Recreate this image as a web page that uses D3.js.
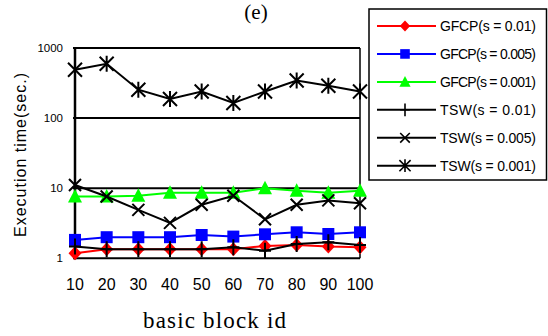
<!DOCTYPE html>
<html>
<head>
<meta charset="utf-8">
<script src="https://cdn.jsdelivr.net/npm/d3@7"></script>
<style>
  body { margin: 0; background: #fff; }
  svg { display: block; }
  text { font-family: 'Liberation Sans', Arial, sans-serif; fill: #000; }
</style>
</head>
<body>
<svg id="chart" width="548" height="336"></svg>
<script>
// block ids on x axis
const blockIds = [10, 20, 30, 40, 50, 60, 70, 80, 90, 100]
const yTicks = [1, 10, 100, 1000]

// execution time (sec.)
const gfcp001 = [1.18, 1.35, 1.35, 1.35, 1.35, 1.35, 1.5, 1.55, 1.47, 1.44]
const gfcp0005 = [1.83, 2.0, 2.0, 2.0, 2.15, 2.04, 2.2, 2.35, 2.22, 2.35]
const gfcp0001 = [7.6, 7.6, 7.8, 8.6, 8.6, 8.6, 10.0, 9.2, 8.6, 9.2]
const tsw001 = [1.47, 1.35, 1.35, 1.35, 1.35, 1.44, 1.28, 1.6, 1.69, 1.55]
const tsw0005 = [11.1, 7.6, 4.9, 3.2, 5.8, 7.8, 3.6, 5.8, 6.7, 6.1]
const tsw0001 = [490, 597, 254, 187, 240, 164, 240, 344, 289, 240]

const series = [
  { name: 'GFCP(s = 0.01)', values: gfcp001, color: '#ff0000', marker: 'diamond' },
  { name: 'GFCP(s = 0.005)', values: gfcp0005, color: '#0000ff', marker: 'square' },
  { name: 'GFCP(s = 0.001)', values: gfcp0001, color: '#00ff00', marker: 'triangle' },
  { name: 'TSW(s = 0.01)', values: tsw001, color: '#000000', marker: 'plus' },
  { name: 'TSW(s = 0.005)', values: tsw0005, color: '#000000', marker: 'x' },
  { name: 'TSW(s = 0.001)', values: tsw0001, color: '#000000', marker: 'star' },
]

const svg = d3.select('#chart')
const x = d3.scaleLinear().domain([10, 100]).range([75, 360])
const y = d3.scaleLog().domain([1, 1000]).range([258.3, 48])

// marker shapes
const markerPath = {
  diamond: 'M0,-7L6.5,0L0,7L-6.5,0Z',
  square: 'M-6,-6H6V6H-6Z',
  triangle: 'M0,-7.5L7,6L-7,6Z',
  plus: 'M0,-8V8M-6,0H6',
  x: 'M-6,-6L6,6M-6,6L6,-6',
  star: 'M-7,-7L7,7M-7,7L7,-7M0,-8V8',
}
const filled = (m) => m === 'diamond' || m === 'square' || m === 'triangle'

function drawMarker(g, m, color) {
  g.append('path')
    .attr('d', markerPath[m])
    .attr('fill', filled(m) ? color : 'none')
    .attr('stroke', color)
    .attr('stroke-width', filled(m) ? 0 : 2)
}

// gridlines + frame
const grid = svg.append('g')
grid.selectAll('line')
  .data(yTicks).enter()
  .append('line')
  .attr('x1', x(10) - 2)
  .attr('x2', x(100))
  .attr('y1', (d) => y(d))
  .attr('y2', (d) => y(d))
  .attr('stroke', '#000')
  .attr('stroke-width', 2)
grid.append('line')
  .attr('x1', x(100)).attr('x2', x(100))
  .attr('y1', y(1000)).attr('y2', y(1))
  .attr('stroke', '#000').attr('stroke-width', 1.5)
grid.append('line')
  .attr('x1', x(10)).attr('x2', x(10))
  .attr('y1', y(1000) - 1).attr('y2', y(1) + 1)
  .attr('stroke', '#000').attr('stroke-width', 2.5)

// y tick labels
svg.append('g').selectAll('text')
  .data(yTicks).enter()
  .append('text')
  .attr('x', 63)
  .attr('y', (d) => y(d) + 4)
  .attr('text-anchor', 'end')
  .attr('font-size', 11.5)
  .text((d) => d)

// x tick labels
svg.append('g').selectAll('text')
  .data(blockIds).enter()
  .append('text')
  .attr('x', (d) => x(d))
  .attr('y', 290)
  .attr('text-anchor', 'middle')
  .attr('font-size', 16)
  .text((d) => d)

// series
const line = d3.line().x((d, i) => x(blockIds[i])).y((d) => y(d))
series.forEach((s) => {
  const g = svg.append('g')
  g.append('path')
    .attr('d', line(s.values))
    .attr('fill', 'none')
    .attr('stroke', s.color)
    .attr('stroke-width', 2)
  g.selectAll('.pt')
    .data(s.values).enter()
    .append('g')
    .attr('class', 'pt')
    .attr('transform', (d, i) => `translate(${x(blockIds[i])},${y(d)})`)
    .each(function () { drawMarker(d3.select(this), s.marker, s.color) })
})

// titles
svg.append('text')
  .attr('x', 256).attr('y', 19)
  .attr('text-anchor', 'middle')
  .style('font-family', "'Liberation Serif', 'Times New Roman', serif")
  .attr('font-size', 21)
  .text('(e)')
svg.append('text')
  .attr('x', 214.5).attr('y', 328)
  .attr('text-anchor', 'middle')
  .style('font-family', "'Liberation Serif', 'Times New Roman', serif")
  .attr('font-size', 23)
  .attr('textLength', 143)
  .text('basic block id')
svg.append('text')
  .attr('transform', 'translate(26,155) rotate(-90)')
  .attr('text-anchor', 'middle')
  .attr('font-size', 16)
  .attr('textLength', 164)
  .text('Execution time(sec.)')

// legend
const legend = svg.append('g')
legend.append('rect')
  .attr('x', 369).attr('y', 9)
  .attr('width', 177.5).attr('height', 171)
  .attr('fill', '#fff')
  .attr('stroke', '#000')
  .attr('stroke-width', 1.5)
const rowY = d3.scaleLinear().domain([0, 5]).range([26, 165.7])
const rows = legend.selectAll('.row')
  .data(series).enter()
  .append('g')
  .attr('class', 'row')
  .attr('transform', (d, i) => `translate(0,${rowY(i)})`)
rows.append('line')
  .attr('x1', 377).attr('x2', 436)
  .attr('stroke', (d) => d.color)
  .attr('stroke-width', 2)
rows.append('g')
  .attr('transform', 'translate(405,0) scale(0.8)')
  .each(function (d) { drawMarker(d3.select(this), d.marker, d.color) })
rows.append('text')
  .attr('x', 440).attr('y', 5)
  .attr('font-size', 14)
  .attr('textLength', 96)
  .text((d) => d.name)
</script>
</body>
</html>
